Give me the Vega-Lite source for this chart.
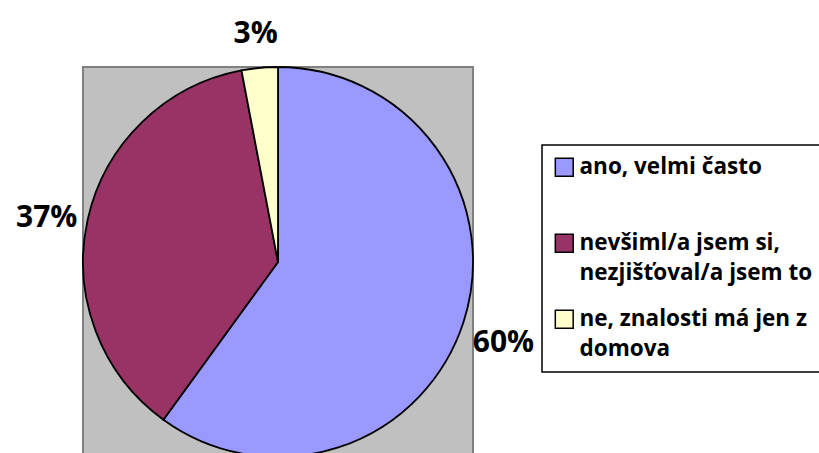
{
  "$schema": "https://vega.github.io/schema/vega-lite/v6.json",
  "width": 390,
  "height": 390,
  "autosize": {"type": "none"},
  "padding": {"left": 83, "top": 67, "right": 346, "bottom": 0},
  "background": "white",
  "view": {"fill": "#C0C0C0", "stroke": "#808080", "strokeWidth": 2},
  "data": {
    "values": [
      {"k": 1, "odpoved": "ano, velmi často\n", "podil": 60, "label": "60%"},
      {"k": 2, "odpoved": "nevšiml/a jsem si,\nnezjišťoval/a jsem to", "podil": 37, "label": "37%"},
      {"k": 3, "odpoved": "ne, znalosti má jen z\ndomova", "podil": 3, "label": "3%"}
    ]
  },
  "encoding": {
    "theta": {"field": "podil", "type": "quantitative", "stack": true},
    "order": {"field": "k", "type": "quantitative"}
  },
  "layer": [
    {
      "mark": {"type": "arc", "stroke": "black", "strokeWidth": 1.8},
      "encoding": {
        "color": {
          "field": "odpoved",
          "type": "nominal",
          "sort": null,
          "scale": {
            "domain": ["ano, velmi často\n", "nevšiml/a jsem si,\nnezjišťoval/a jsem to", "ne, znalosti má jen z\ndomova"],
            "range": ["#9999FF", "#993366", "#FFFFCC"]
          },
          "legend": {
            "orient": "none",
            "legendX": 459,
            "legendY": 78,
            "title": null,
            "labelExpr": "split(datum.label, '\\n')",
            "labelFont": "Open Sans",
            "labelFontWeight": "bold",
            "labelFontSize": 22.5,
            "labelColor": "black",
            "labelLimit": 400,
            "labelBaseline": "line-top",
            "labelOffset": 4,
            "symbolType": "square",
            "symbolSize": 320,
            "symbolStrokeColor": "black",
            "symbolStrokeWidth": 1.5,
            "symbolOpacity": 1,
            "rowPadding": 22,
            "padding": 11,
            "fillColor": "white",
            "strokeColor": "black",
            "cornerRadius": 0,
            "encode": {
              "legend": {"update": {"strokeWidth": {"value": 1.5}}},
              "labels": {"update": {"lineHeight": {"value": 30}, "dy": {"value": -15}}}
            }
          }
        }
      }
    },
    {
      "mark": {"type": "text", "radius": 237, "dy": 8, "font": "Open Sans", "fontWeight": "bold", "fontSize": 30, "align": "center", "baseline": "middle", "color": "black"},
      "encoding": {
        "text": {"field": "label", "type": "nominal"}
      }
    }
  ]
}
